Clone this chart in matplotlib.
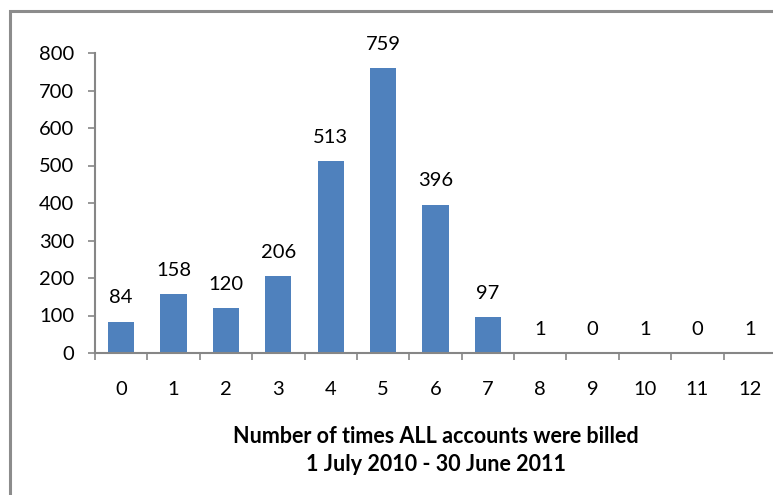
import numpy as np
import matplotlib.pyplot as plt
from matplotlib.patches import Rectangle

# times billed and how many accounts fell into each count
times_billed = ['0', '1', '2', '3', '4', '5', '6', '7', '8', '9', '10', '11', '12']
accounts = [84, 158, 120, 206, 513, 759, 396, 97, 1, 0, 1, 0, 1]

plt.rcParams['font.family'] = ['Lato', 'DejaVu Sans']

axis_grey = '#868686'
bar_blue = '#4F81BD'

fig = plt.figure(figsize=(7.73, 4.95), dpi=100)
ax = fig.add_axes([95/773, 1 - 353/495, 681/773, 300/495])

x = np.arange(len(times_billed))
bars = ax.bar(x, accounts, width=0.5, color=bar_blue, zorder=2)
for xi, v in zip(x, accounts):
    ax.annotate(str(v), (xi, v), xytext=(0, 17), textcoords='offset points',
                ha='center', va='center', fontsize=14.5)

ax.set_xlim(-0.5, len(times_billed) - 0.5)
ax.set_ylim(0, 800)
ax.set_yticks(range(0, 801, 100))
ax.tick_params(axis='y', length=5, width=1.2, color=axis_grey, pad=10, labelsize=14.5)

# category labels centred under bars, tick marks between categories
ax.set_xticks(x)
ax.set_xticklabels(times_billed)
ax.tick_params(axis='x', length=0, pad=20, labelsize=14.5)
ax.set_xticks(np.arange(-0.5, len(times_billed)), minor=True)
ax.tick_params(axis='x', which='minor', length=5, width=1.2, color=axis_grey)

for side in ['top', 'right']:
    ax.spines[side].set_visible(False)
for side in ['left', 'bottom']:
    ax.spines[side].set_color(axis_grey)
    ax.spines[side].set_linewidth(1.5)

ax.set_xlabel('Number of times ALL accounts were billed\n1 July 2010 - 30 June 2011',
              fontsize=15.5, fontweight='bold', labelpad=20, linespacing=1.45)

# chart frame
fig.patches.append(Rectangle((10/773, -0.1), 1.2, 1 - 11/495 + 0.1,
                             transform=fig.transFigure, fill=False,
                             edgecolor='#8c8c8c', linewidth=2.2))

fig.savefig('out.png', dpi=100)
